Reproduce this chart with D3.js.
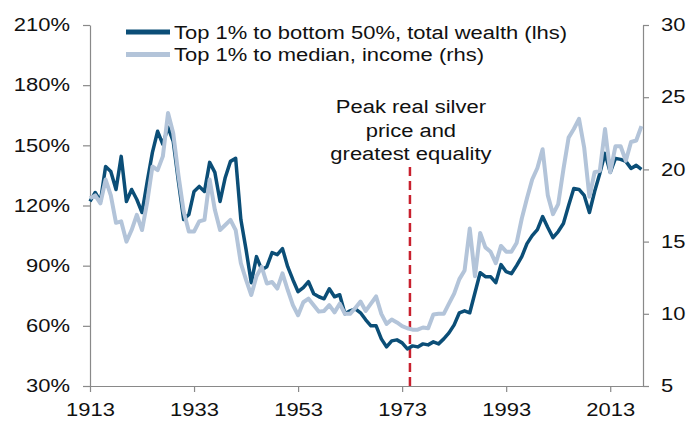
<!DOCTYPE html>
<html>
<head>
<meta charset="utf-8">
<script src="https://cdn.jsdelivr.net/npm/d3@7"></script>
<style>
  body { margin: 0; background: #fff; }
  text { font-family: "Liberation Sans", Arial, sans-serif; fill: #111; }
</style>
</head>
<body>
<div class="chart"></div>
<script>
// first year of both series, one value per year
var startYear = 1913;

// Top 1% to bottom 50%, total wealth (lhs, %)
var wealthRatio = [
  122, 126.5, 122, 139.5, 137, 128, 144.5,
  122, 128, 123, 116.5, 132, 146.5, 157, 150.5, 159, 152,
  132, 113, 115.5, 127, 129.5, 127, 141.5, 136.5, 122, 134,
  142, 143.5, 113, 98, 81.5, 94.5, 88, 89.5, 96.5, 95.5,
  98.5, 89.5, 83, 77, 79, 82, 76, 74.5, 73.5, 78.5,
  74.5, 75.5, 66, 67.5, 68.5, 66.5, 63, 60, 60, 53.5,
  49.5, 52.5, 53, 51.5, 48.5, 50, 49.5, 51, 50.5, 52,
  51, 53.5, 56.5, 60.5, 66.5, 67.5, 66.5, 76.5, 86.5, 84.5,
  84.5, 81.5, 90.5, 87, 86, 90, 94.5, 101, 105, 108,
  114.5, 109, 104, 107, 111, 120, 128.5, 128, 125, 116.5,
  127, 136, 146, 136.5, 143.5, 143, 142, 138.5, 140, 138
];

// Top 1% to median, income (rhs, ratio)
var incomeRatio = [
  18.0, 18.2, 17.65, 19.3, 18.2, 16.3, 16.4,
  15.0, 15.8, 16.85, 15.8, 17.75, 20.2, 19.95, 20.9, 23.9, 22.5,
  19.6, 17.1, 15.7, 15.7, 16.4, 16.5, 19.3, 17.2, 15.8, 16.15,
  16.5, 15.8, 13.5, 12.35, 11.3, 12.6, 13.25, 12.1, 12.2, 11.75,
  12.8, 11.65, 10.6, 9.9, 10.8, 11.05, 10.6, 10.15, 10.2, 10.6,
  10.1, 10.7, 10.0, 10.0, 10.4, 10.85, 10.2, 10.7, 11.2, 10.0,
  9.3, 9.6, 9.4, 9.15, 9.0, 8.9, 8.9, 9.05, 9.0, 9.95,
  10.0, 10.0, 10.7, 11.4, 12.4, 13.0, 15.9, 12.6, 15.6, 14.6,
  14.3, 13.5, 14.7, 14.3, 14.3, 14.9, 16.6, 18.0, 19.3, 20.1,
  21.4, 18.2, 16.9, 17.6, 20.0, 22.2, 22.8, 23.5, 21.5, 18.1,
  19.8, 19.9, 22.8, 19.8, 21.6, 21.6, 20.6, 21.9, 22.0, 23.0
];

var yearTicks = [1913, 1933, 1953, 1973, 1993, 2013];
var leftTicks = [30, 60, 90, 120, 150, 180, 210];
var rightTicks = [5, 10, 15, 20, 25, 30];
var seriesNames = ["Top 1% to bottom 50%, total wealth (lhs)", "Top 1% to median, income (rhs)"];
var peakYear = 1974.5;
var noteLines = ["Peak real silver", "price and", "greatest equality"];

var width = 687, height = 421;
var darkBlue = "#0b4e77", lightBlue = "#b3c4d9", axisGrey = "#898989";
var textStretch = 1.22; // reference glyphs are drawn a little wider than Arial

var x = d3.scaleLinear().domain([1913, 2019.3]).range([90, 643]);
var yLeft = d3.scaleLinear().domain([30, 210]).range([386, 25]);
var yRight = d3.scaleLinear().domain([5, 30]).range([386, 25]);

function stretch(sel) {
  sel.each(function() {
    var w = this.getComputedTextLength();
    d3.select(this).attr("textLength", w * textStretch).attr("lengthAdjust", "spacingAndGlyphs");
  });
}

function toPoints(values) {
  return values.map(function(v, i) { return {year: startYear + i, value: v}; });
}

var svg = d3.select("div.chart").append("svg")
  .attr("width", width)
  .attr("height", height);

function styleAxis(g) {
  g.select(".domain").attr("stroke", axisGrey).attr("stroke-width", 1.2);
  g.selectAll(".tick line").attr("stroke", axisGrey).attr("stroke-width", 1.2);
  g.selectAll(".tick text").attr("font-size", 18).attr("fill", "#111").call(stretch);
}

svg.append("g")
  .attr("transform", "translate(90,0)")
  .call(d3.axisLeft(yLeft).tickValues(leftTicks).tickSize(7).tickSizeOuter(0).tickPadding(13)
    .tickFormat(function(d) { return d + "%"; }))
  .call(styleAxis);

svg.append("g")
  .attr("transform", "translate(643,0)")
  .call(d3.axisRight(yRight).tickValues(rightTicks).tickSize(6).tickSizeOuter(0).tickPadding(12))
  .call(styleAxis);

svg.append("g")
  .attr("transform", "translate(0,386)")
  .call(d3.axisBottom(x).tickValues(yearTicks).tickSize(6).tickSizeOuter(0).tickPadding(11)
    .tickFormat(d3.format("d")))
  .call(styleAxis);

// peak marker
svg.append("line")
  .attr("x1", x(peakYear)).attr("x2", x(peakYear))
  .attr("y1", 167).attr("y2", yLeft(30))
  .attr("stroke", "#c8202e")
  .attr("stroke-width", 2.5)
  .attr("stroke-dasharray", "9,5");

svg.append("g").selectAll("text").data(noteLines).enter().append("text")
  .attr("x", x(peakYear) + 1)
  .attr("y", function(d, i) { return 113 + i * 23.5; })
  .attr("text-anchor", "middle")
  .attr("font-size", 18)
  .text(function(d) { return d; })
  .call(stretch);

var wealthLine = d3.line()
  .x(function(d) { return x(d.year); })
  .y(function(d) { return yLeft(d.value); });
var incomeLine = d3.line()
  .x(function(d) { return x(d.year); })
  .y(function(d) { return yRight(d.value); });

svg.append("path")
  .datum(toPoints(wealthRatio))
  .attr("d", wealthLine)
  .attr("fill", "none")
  .attr("stroke", darkBlue)
  .attr("stroke-width", 3.5)
  .attr("stroke-linejoin", "round");

svg.append("path")
  .datum(toPoints(incomeRatio))
  .attr("d", incomeLine)
  .attr("fill", "none")
  .attr("stroke", lightBlue)
  .attr("stroke-width", 4)
  .attr("stroke-linejoin", "round");

// legend
var legend = svg.append("g").selectAll("g").data(seriesNames).enter().append("g")
  .attr("transform", function(d, i) { return "translate(126," + (32 + i * 22.5) + ")"; });
legend.append("line")
  .attr("x1", 0).attr("x2", 44)
  .attr("stroke", function(d, i) { return i === 0 ? darkBlue : lightBlue; })
  .attr("stroke-width", 5);
legend.append("text")
  .attr("x", 48)
  .attr("y", 6.5)
  .attr("font-size", 18)
  .text(function(d) { return d; })
  .call(stretch);
</script>
</body>
</html>
